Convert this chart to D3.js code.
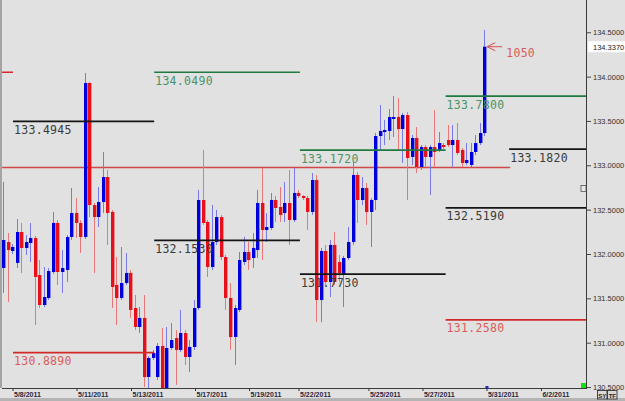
<!DOCTYPE html>
<html lang="en">
<head>
<meta charset="utf-8">
<title>USD/JPY 4H</title>
<script src="https://d3js.org/d3.v7.min.js"></script>
<style>
  html, body { margin: 0; padding: 0; background: #e1e1e1; }
  svg { display: block; }
</style>
</head>
<body>
<svg id="chart"></svg>
<script>
// 4-hour candles
const candleOpen = [131.842,132.135,132.034,131.899,132.248,132.068,132.124,132.180,131.763,131.425,
  131.504,131.797,132.350,131.797,131.820,132.192,132.462,132.350,132.192,133.928,
  132.552,132.417,132.586,132.868,132.474,131.651,131.504,131.673,131.786,131.391,
  131.177,131.279,130.613,130.828,130.613,130.963,130.467,130.940,131.053,130.918,
  131.109,130.839,130.952,131.391,132.609,132.361,131.853,132.135,132.417,131.966,
  131.504,131.064,131.369,131.910,132.023,131.955,132.045,132.575,132.271,132.293,
  132.609,132.530,132.462,132.575,132.383,132.688,132.654,132.631,132.474,132.834,
  131.481,132.034,131.684,132.102,131.910,131.763,131.955,132.135,132.891,132.609,
  132.744,132.474,132.609,133.330,133.375,133.387,133.522,133.545,133.409,133.567,
  133.094,133.308,132.981,133.206,133.094,133.206,133.173,133.229,133.285,133.229,
  133.285,133.173,133.026,133.003,133.150,133.251,133.364];
const candleClose = [132.158,132.045,132.079,132.248,132.068,132.135,132.180,131.741,131.425,131.515,
  131.808,132.350,131.797,131.842,132.192,132.462,132.350,132.192,133.928,132.552,
  132.417,132.586,132.868,132.462,131.628,131.504,131.673,131.786,131.369,131.177,
  131.279,130.613,130.828,130.884,130.963,130.467,130.940,131.030,130.918,131.109,
  130.839,130.952,131.391,132.609,132.350,131.853,132.135,132.417,131.966,131.504,
  131.064,131.391,131.932,132.023,131.932,132.068,132.575,132.271,132.304,132.609,
  132.519,132.440,132.575,132.383,132.688,132.654,132.631,132.474,132.834,131.481,
  132.034,131.684,132.102,131.684,131.786,131.955,132.135,132.891,132.609,132.744,
  132.474,132.609,133.330,133.387,133.398,133.545,133.545,133.409,133.567,133.082,
  133.308,132.981,133.206,133.094,133.206,133.150,133.251,133.206,133.229,133.285,
  133.139,133.026,133.060,133.150,133.251,133.364,134.337];
const candleHigh = [132.812,132.237,132.113,132.395,132.350,132.214,132.350,132.203,131.932,131.853,
  131.842,132.474,132.383,132.045,132.214,132.744,132.631,132.383,134.041,133.939,
  132.575,132.755,133.150,132.947,132.496,131.966,132.079,132.011,131.820,131.538,
  131.402,131.538,130.850,130.918,130.997,131.166,131.177,131.222,131.143,131.369,
  131.143,131.030,131.481,132.722,133.173,132.383,132.552,132.496,132.440,131.989,
  131.673,131.425,132.023,132.192,132.135,132.237,132.722,132.970,132.462,132.688,
  132.654,132.755,132.812,132.947,132.970,132.722,132.665,132.654,132.913,132.891,
  132.068,132.102,132.158,132.248,131.989,131.978,132.304,133.037,132.924,132.868,
  132.800,132.631,133.364,133.680,133.511,133.635,133.781,133.759,133.590,133.601,
  133.342,133.432,133.229,133.229,133.229,133.623,133.375,133.251,133.454,133.454,
  133.477,133.195,133.251,133.251,133.342,133.477,134.525];
const candleLow = [131.560,131.459,132.000,131.842,131.786,131.989,131.910,131.200,131.391,131.402,
  131.481,131.775,131.651,131.560,131.684,132.158,132.180,132.011,132.169,132.417,
  131.786,132.304,132.462,132.102,131.391,131.200,131.481,131.651,131.279,131.143,
  131.109,130.501,130.354,130.805,130.580,130.354,130.410,130.918,130.523,130.895,
  130.749,130.670,130.918,131.369,132.327,131.741,131.820,132.102,131.932,131.369,
  130.918,130.749,131.346,131.876,131.820,131.842,131.955,131.932,132.135,132.271,
  132.361,132.361,132.361,132.102,132.361,132.631,132.609,132.271,132.440,131.233,
  131.233,131.651,131.515,131.651,131.684,131.402,131.932,132.102,132.350,132.552,
  132.327,132.079,132.496,133.173,133.229,133.285,133.319,133.173,133.026,132.609,
  133.003,132.913,132.947,132.981,132.665,132.981,133.150,133.184,133.206,132.981,
  133.116,132.981,133.003,132.981,133.116,133.229,133.330];

// date labels and the candle index they sit on
const dateLabels = ["5/8/2011","5/11/2011","5/13/2011","5/17/2011","5/19/2011","5/22/2011","5/25/2011","5/27/2011","5/31/2011","6/2/2011"];
const dateIndex = [2.1, 16.2, 28.2, 42.3, 54.2, 65.1, 80.5, 92.4, 106.5, 118.5];

const priceTicks = [134.5, 134.0, 133.5, 133.0, 132.5, 132.0, 131.5, 131.0, 130.5];

// pivot levels: value, kind, candle-index span (null = to the axis)
const levelValue = [133.4945, 130.8890, 134.0490, 132.1530, 133.1720, 131.7730, 133.7800, 132.5190, 131.2580, 133.1820];
const levelKind  = ["pivot", "support", "resist", "pivot", "resist", "pivot", "resist", "pivot", "support", "pivot"];
const levelFrom  = [2.2, 2.2, 33.3, 33.3, 65.4, 65.4, 97.5, 97.5, 97.5, 111.5];
const levelTo    = [33.3, 33.3, 65.4, 65.4, 97.5, 97.5, null, null, null, null];

const prevClose = 132.975;
const prevCloseSpan = [-0.2, 111.7];
const noteText = "1050";

const W = 625, H = 401;
const box = { left: 2, right: 586, top: 0, bottom: 388 };

const svg = d3.select("#chart").attr("width", W).attr("height", H);

svg.append("rect").attr("width", W).attr("height", H).attr("fill", "#e1e1e1");

const x = d3.scaleLinear().domain([0, 106]).range([3, 484.2]);
const y = d3.scaleLinear().domain([130.4893, 134.8636]).range([box.bottom, box.top]);

svg.append("defs").append("clipPath").attr("id", "plot")
  .append("rect").attr("x", box.left).attr("y", box.top)
  .attr("width", box.right - box.left).attr("height", box.bottom - box.top);

const plot = svg.append("g").attr("clip-path", "url(#plot)");

const kindColor = { pivot: "#141414", resist: "#1e7a40", support: "#d42828" };
const kindText = { pivot: "#3a3a3a", resist: "#4a9468", support: "#dc5c5c" };

// previous close line
plot.append("line")
  .attr("x1", x(prevCloseSpan[0])).attr("x2", x(prevCloseSpan[1]))
  .attr("y1", y(prevClose)).attr("y2", y(prevClose))
  .attr("stroke", "#d04848").attr("stroke-width", 1.5);

// candles
const candles = d3.range(candleOpen.length).map(i => ({
  i, o: candleOpen[i], h: candleHigh[i], l: candleLow[i], c: candleClose[i]
}));

const cg = plot.selectAll("g.candle").data(candles).enter().append("g").attr("class", "candle");
cg.append("line")
  .attr("x1", d => Math.round(x(d.i)) + 0.5).attr("x2", d => Math.round(x(d.i)) + 0.5)
  .attr("y1", d => y(d.h)).attr("y2", d => y(d.l))
  .attr("stroke", d => d.c >= d.o ? "#7a7ae6" : "#e87878").attr("stroke-width", 1);
cg.append("rect")
  .attr("x", d => Math.round(x(d.i)) - 1)
  .attr("width", 3.4)
  .attr("y", d => y(Math.max(d.o, d.c)))
  .attr("height", d => Math.max(1.5, Math.abs(y(d.o) - y(d.c))))
  .attr("fill", d => d.c >= d.o ? "#0000dc" : "#e6101a");

// level lines and their labels
const levels = levelValue.map((v, k) => ({ v, kind: levelKind[k], from: levelFrom[k], to: levelTo[k] }));
const lg = svg.append("g");
lg.selectAll("line").data(levels).enter().append("line")
  .attr("x1", d => x(d.from)).attr("x2", d => d.to === null ? box.right : x(d.to))
  .attr("y1", d => y(d.v)).attr("y2", d => y(d.v))
  .attr("stroke", d => kindColor[d.kind]).attr("stroke-width", 1.7);
lg.selectAll("text").data(levels).enter().append("text")
  .attr("x", d => x(d.from) + 1).attr("y", d => y(d.v) + 12.5)
  .attr("font-family", "DejaVu Sans Mono").attr("font-size", 11.5).attr("letter-spacing", 0.3)
  .attr("fill", d => kindText[d.kind])
  .text(d => d.v.toFixed(4));

// small red marker at the left edge
svg.append("line").attr("x1", 0).attr("x2", x(2.2)).attr("y1", y(levelValue[2])).attr("y2", y(levelValue[2]))
  .attr("stroke", "#d42828").attr("stroke-width", 1.5);

// arrow + note at last close
const last = candles[candles.length - 1];
const ax = x(last.i) + 3, ay = y(last.c);
svg.append("path")
  .attr("d", `M${ax + 8},${ay - 4} L${ax},${ay} L${ax + 8},${ay + 4} M${ax},${ay} L${ax + 15},${ay}`)
  .attr("fill", "none").attr("stroke", "#d85050").attr("stroke-width", 1);
svg.append("text").attr("x", ax + 19).attr("y", ay + 10)
  .attr("font-family", "DejaVu Sans Mono").attr("font-size", 11.5).attr("letter-spacing", 0.3).attr("fill", "#dc5c5c")
  .text(noteText);

// frame
svg.append("rect").attr("x", 0).attr("y", 0).attr("width", 2).attr("height", box.bottom).attr("fill", "#a4a4a4");
svg.append("rect").attr("x", 0).attr("y", H - 3).attr("width", W).attr("height", 3).attr("fill", "#b4b4b4");
svg.append("line").attr("x1", box.right + 0.5).attr("x2", box.right + 0.5).attr("y1", 0).attr("y2", box.bottom)
  .attr("stroke", "#3c3c3c").attr("stroke-width", 1);
svg.append("line").attr("x1", box.left).attr("x2", box.right + 1).attr("y1", box.bottom + 0.5).attr("y2", box.bottom + 0.5)
  .attr("stroke", "#3c3c3c").attr("stroke-width", 1);

// price axis
const yAxis = d3.axisRight(y).tickValues(priceTicks).tickSize(4).tickPadding(2).tickFormat(d => d.toFixed(4));
const yg = svg.append("g").attr("transform", `translate(${box.right + 1},0)`).call(yAxis);
yg.select(".domain").remove();
yg.selectAll("line").attr("stroke", "#444");
yg.selectAll("text").attr("font-family", "Liberation Sans").attr("font-size", 7.5).attr("fill", "#303030");

// current price badge
svg.append("rect").attr("x", box.right + 2).attr("y", ay - 5.5).attr("width", W - box.right - 2).attr("height", 11).attr("fill", "#fff");
svg.append("text").attr("x", box.right + 7).attr("y", ay + 3)
  .attr("font-family", "Liberation Sans").attr("font-size", 7.5).attr("fill", "#202020")
  .text(last.c.toFixed(4));

// time axis
const xAxis = d3.axisBottom(x).tickValues(dateIndex).tickSize(3).tickFormat((d, i) => dateLabels[i]);
const xg = svg.append("g").attr("transform", `translate(0,${box.bottom})`).call(xAxis);
xg.select(".domain").remove();
xg.selectAll("line").attr("stroke", "#333");
xg.selectAll("text").attr("text-anchor", "start").attr("dx", 1).attr("y", 4)
  .attr("font-family", "Liberation Sans").attr("font-size", 7).attr("font-weight", "bold").attr("fill", "#262640");

// time marker on the axis
svg.append("rect").attr("x", x(106.5) - 1).attr("y", box.bottom - 2).attr("width", 3).attr("height", 3).attr("fill", "#2030a0");

// bits of the window chrome
svg.append("rect").attr("x", box.right - 5).attr("y", box.bottom - 5).attr("width", 5).attr("height", 5).attr("fill", "#10e010");
svg.append("rect").attr("x", box.right - 5).attr("y", 185.5).attr("width", 5).attr("height", 6)
  .attr("fill", "#e8e8e8").attr("stroke", "#555").attr("stroke-width", 0.8);
["SY", "TF"].forEach((t, k) => {
  svg.append("rect").attr("x", 597.5 + k * 10).attr("y", 390.5).attr("width", 9.5).attr("height", 8.5)
    .attr("fill", "#d8d8d8").attr("stroke", "#222").attr("stroke-width", 0.8);
  svg.append("text").attr("x", 602.3 + k * 10).attr("y", 397.5).attr("text-anchor", "middle")
    .attr("font-family", "Liberation Sans").attr("font-size", 6).attr("font-weight", "bold").attr("fill", "#222").text(t);
});
</script>
</body>
</html>
